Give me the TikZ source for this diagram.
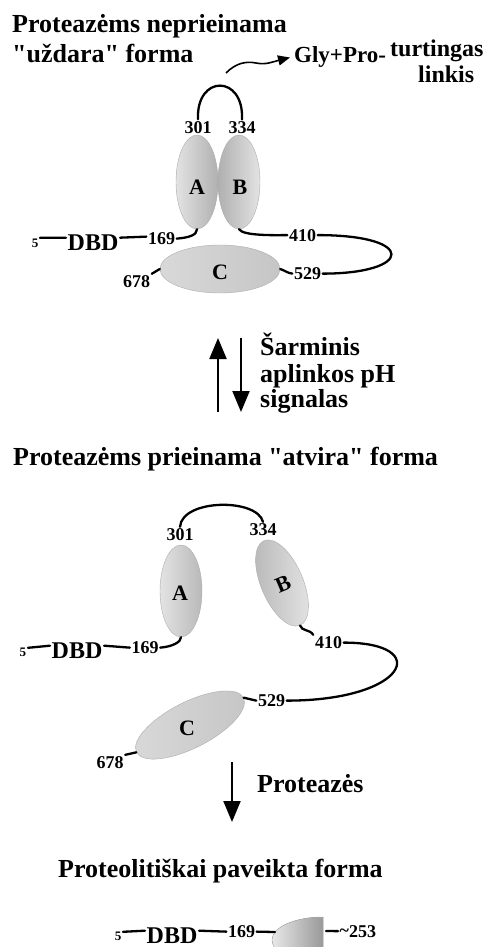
\documentclass[tikz,border=0pt]{standalone}
\usepackage{fontspec}
\setmainfont{Liberation Serif}
\usetikzlibrary{arrows.meta,shapes.geometric}

\begin{document}
\begin{tikzpicture}[x=1pt,y=1pt,
  every node/.style={inner sep=0pt},
  title/.style={anchor=base west, font=\fontsize{26}{30}\selectfont\bfseries},
  note/.style={anchor=base west, font=\fontsize{24}{27}\selectfont\bfseries},
  num/.style={anchor=base, inner sep=1.5pt, font=\fontsize{18}{18}\selectfont\bfseries},
  tiny/.style={anchor=base, inner sep=1.5pt, font=\fontsize{13}{13}\selectfont\bfseries},
  dbd/.style={anchor=base west, inner sep=1.5pt, font=\fontsize{24}{24}\selectfont\bfseries},
  letter/.style={font=\fontsize{22}{22}\selectfont\bfseries},
  link/.style={line width=2.3pt, line cap=round},
  dom/.style={ellipse, draw=gray!65, line width=0.4pt, inner sep=0pt},
  flow/.style={line width=2pt, -{Triangle[length=21pt,width=17pt]}},
]
\useasboundingbox (0,0) rectangle (492,-947);
\clip (0,0) rectangle (492,-947);

% ---------- closed form ----------
\node[title] (t1a) at (12,-33) {Proteazėms neprieinama};
\node[title] (t1b) at (12,-63) {\textquotedbl uždara\textquotedbl\ forma};
\node[title, font=\fontsize{23}{23}\selectfont\bfseries] (gly) at (294,-63) {Gly+Pro-};
\node[note] (turt) at (390,-57) {turtingas};
\node[note] (link) at (418,-83) {linkis};
\coordinate (w0) at (226,-73);
\draw[line width=1.6pt, -{Triangle[length=12pt,width=10pt]}]
  (w0) .. controls (236,-63) and (246,-61) .. (256,-63)
       .. controls (266,-65) and (272,-62) .. ([xshift=-4pt]gly.west);

\node[dom, minimum width=42, minimum height=94, left color=gray!22, right color=gray!62] (A1) at (197,-182) {};
\node[dom, minimum width=42, minimum height=94, left color=gray!62, right color=gray!22] (B1) at (239,-182) {};
\node[dom, minimum width=120, minimum height=48, left color=gray!30, right color=gray!45] (C1) at (220,-269) {};
\node[letter] (lA1) at (197,-187) {A};
\node[letter] (lB1) at (240,-187) {B};
\node[letter] (lC1) at (220,-272) {C};

\node[num] (p301a) at (198,-133) {301};
\node[num] (p334a) at (242,-133) {334};
\draw[link] (p301a.north) .. controls +(-2,45) and +(2,45) .. (p334a.north);

\node[tiny] (f5a) at (35,-247) {5};
\node[dbd] (dbda) at (66,-250) {DBD};
\node[num] (p169a) at (161.5,-244.5) {169};
\node[num] (p410a) at (302.5,-241) {410};
\node[num] (p529a) at (307.5,-279.5) {529};
\node[num] (p678a) at (136.5,-287.5) {678};

\draw[link] ([yshift=5pt]f5a.east) -- ([yshift=4.5pt]dbda.west);
\draw[link] ([yshift=4.5pt]dbda.east) -- ([yshift=2pt]p169a.west);
\draw[link] (p169a.east) .. controls +(12,1) and +(0,-6) .. (A1.south);
\draw[link] (B1.south) .. controls +(4,-7) and +(-10,0) .. (p410a.west);
\draw[link] (p410a.east) .. controls +(100,0) and +(90,0) .. (p529a.east);
\draw[link] (C1.east) .. controls +(6,-2) and +(-6,1) .. (p529a.west);
\draw[link] (p678a.north east) -- (C1.west);

% ---------- transition ----------
\coordinate (u0) at (218,-412);
\coordinate (u1) at (218,-338);
\coordinate (d0) at (241,-338);
\coordinate (d1) at (241,-412);
\draw[flow] (u0) -- (u1);
\draw[flow] (d0) -- (d1);
\node[title] (ph1) at (260,-355) {Šarminis};
\node[title] (ph2) at (260,-382) {aplinkos pH};
\node[title] (ph3) at (260,-407) {signalas};

% ---------- open form ----------
\node[title] (t2) at (13,-465) {Proteazėms prieinama \textquotedbl atvira\textquotedbl\ forma};

\node[dom, minimum width=42, minimum height=92, left color=gray!22, right color=gray!55] (A2) at (181,-591) {};
\node[dom, minimum width=42, minimum height=92, rotate=23, left color=gray!55, right color=gray!22] (B2) at (282,-583) {};
\node[dom, minimum width=120, minimum height=46, rotate=27, left color=gray!30, right color=gray!45] (C2) at (190,-725) {};
\node[letter] (lA2) at (180,-593) {A};
\node[letter, rotate=23] (lB2) at (283,-584) {B};
\node[letter] (lC2) at (187,-728) {C};

\node[num] (p301b) at (180,-540.5) {301};
\node[num] (p334b) at (263,-535.5) {334};
\draw[link] (p301b.north) .. controls +(2,28) and +(-6,24) .. (p334b.north);

\node[tiny] (f5b) at (23,-656) {5};
\node[dbd] (dbdb) at (50,-658) {DBD};
\node[num] (p169b) at (145,-653.5) {169};
\node[num] (p410b) at (328.5,-648.5) {410};
\node[num] (p529b) at (271.5,-706.5) {529};
\node[num] (p678b) at (110,-768.5) {678};

\draw[link] ([yshift=4pt]f5b.east) -- ([yshift=4.5pt]dbdb.west);
\draw[link] ([yshift=4.5pt]dbdb.east) -- (p169b.west);
\draw[link] (p169b.east) .. controls +(12,1) and +(0,-5) .. (A2.south);
\draw[link] (B2.south) .. controls +(2,-6) and +(-4,6) .. (p410b.north west);
\draw[link] (p410b.east) .. controls +(90,0) and +(120,0) .. (p529b.east);
\draw[link] (C2.east) -- (p529b.west);
\draw[link] (p678b.north east) -- (C2.west);

% ---------- proteolysis ----------
\coordinate (r0) at (232,-762);
\coordinate (r1) at (232,-822);
\draw[flow] (r0) -- (r1);
\node[title] (prot) at (257,-792) {Proteazės};

\node[title] (t3) at (58,-877) {Proteolitiškai paveikta forma};

\node[tiny] (f5c) at (118,-940) {5};
\node[dbd] (dbdc) at (145,-943) {DBD};
\node[num] (p169c) at (241.5,-937.5) {169};
\node[num, anchor=base west] (p253) at (338,-937) {\raisebox{1pt}{\~{}}253};

\coordinate (Dtop) at (323,-917);
\fill[left color=gray!18, right color=gray!80, draw=gray!60, line width=0.4pt]
  (Dtop) arc[start angle=90, end angle=270, x radius=51, y radius=23] -- cycle;
\coordinate (Dl) at (275,-932);
\coordinate (Dr) at (323,-931);

\draw[link] ([yshift=4pt]f5c.east) -- ([yshift=4.5pt]dbdc.west);
\draw[link] ([yshift=4.5pt]dbdc.east) -- (p169c.west);
\draw[link] (p169c.east) -- (Dl);
\draw[link] ([xshift=3pt]Dr) -- (p253.west);
\end{tikzpicture}
\end{document}
